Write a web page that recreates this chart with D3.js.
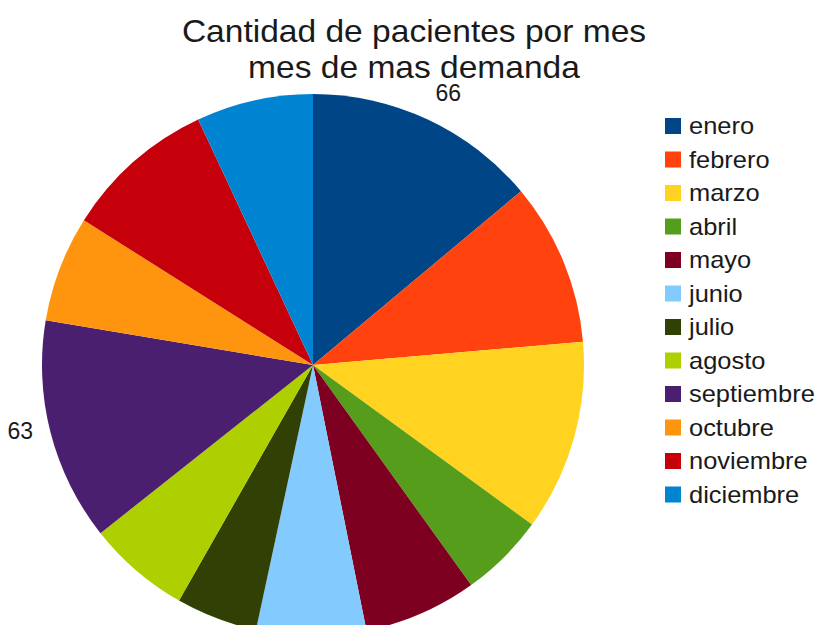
<!DOCTYPE html>
<html>
<head>
<meta charset="utf-8">
<script src="https://cdn.jsdelivr.net/npm/d3@7"></script>
<style>
body { margin: 0; background: #fff; }
text { font-family: "Liberation Sans", Arial, sans-serif; fill: #1a1a1a; }
</style>
</head>
<body>
<svg id="view" width="819" height="625"></svg>
<script>
// DATA
var MONTHS = ["enero", "febrero", "marzo", "abril", "mayo", "junio",
    "julio", "agosto", "septiembre", "octubre", "noviembre", "diciembre"];
var VALUES = [66, 46, 54, 24, 32, 31, 23, 29, 63, 30, 43, 33];
var COLORS = ["#004586", "#ff420e", "#ffd320", "#579d1c", "#7e0021", "#83caff",
    "#314004", "#aecf00", "#4b1f6f", "#ff950e", "#c5000b", "#0084d1"];
var LABELED = ["enero", "septiembre"];
var TITLE = ["Cantidad de pacientes por mes", "mes de mas demanda"];

// LAYOUT
var CX = 313;
var CY = 365;
var RADIUS = 271;
var TEXT_STRETCH = 1.1; // reference glyphs are a bit wider than ours

function main() {
    var svg = d3.select("#view");

    var rows = MONTHS.map(function(m, i) {
        return {month: m, value: VALUES[i], color: COLORS[i]};
    });

    var pie = d3.pie()
        .sort(null)
        .value(function(d) { return d.value; });
    var arc = d3.arc()
        .innerRadius(0)
        .outerRadius(RADIUS);

    var group = svg.append("g")
        .attr("transform", "translate(" + CX + "," + CY + ")");

    var arcs = pie(rows);
    group.selectAll("path")
        .data(arcs)
        .enter()
        .append("path")
        .attr("d", arc)
        .attr("fill", function(d) { return d.data.color; })
        ;

    // value labels
    var labelR = RADIUS + 18;
    group.selectAll("text.value")
        .data(arcs.filter(function(d) { return LABELED.indexOf(d.data.month) >= 0; }))
        .enter()
        .append("text")
        .attr("class", "value")
        .attr("font-size", 23)
        .attr("x", function(d) {
            var a = (d.startAngle + d.endAngle) / 2;
            return labelR * Math.sin(a);
        })
        .attr("y", function(d) {
            var a = (d.startAngle + d.endAngle) / 2;
            var c = Math.cos(a);
            return -labelR * c + 8 * (1 - c) / 2 - 3;
        })
        .attr("text-anchor", function(d) {
            var a = (d.startAngle + d.endAngle) / 2;
            return Math.sin(a) >= 0 ? "start" : "end";
        })
        .text(function(d) { return d.data.value; })
        ;

    // title
    svg.selectAll("text.title")
        .data(TITLE)
        .enter()
        .append("text")
        .attr("class", "title")
        .attr("transform", function(d, i) {
            return "translate(414," + (42 + i * 36) + ") scale(" + TEXT_STRETCH + ",1)";
        })
        .attr("text-anchor", "middle")
        .attr("font-size", 30.5)
        .text(function(d) { return d; })
        ;

    // legend
    var legend = svg.append("g")
        .attr("transform", "translate(665,118)");
    var item = legend.selectAll("g")
        .data(rows)
        .enter()
        .append("g")
        .attr("transform", function(d, i) { return "translate(0," + (i * 33.5) + ")"; });
    item.append("rect")
        .attr("width", 16)
        .attr("height", 16)
        .attr("fill", function(d) { return d.color; });
    item.append("text")
        .attr("transform", "translate(24,16) scale(1.06,1)")
        .attr("font-size", 24)
        .text(function(d) { return d.month; });
}

main();
</script>
</body>
</html>
